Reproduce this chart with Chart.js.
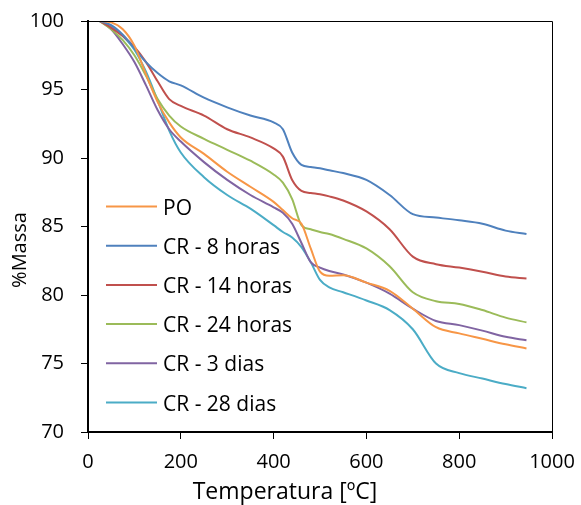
<!DOCTYPE html>
<html>
<head>
<meta charset="utf-8">
<script src="https://cdn.jsdelivr.net/npm/chart.js@4.4.1/dist/chart.umd.min.js"></script>
<style>
  html, body { margin: 0; padding: 0; background: #fff; }
  canvas { display: block; }
</style>
</head>
<body>
<canvas id="tga" width="581" height="505"></canvas>
<script>
// temperatura [ºC]
const temps = [25, 50, 75, 100, 125, 150, 175, 200, 250, 300, 350, 400, 420, 440, 460, 480, 500, 520, 550, 600, 650, 700, 750, 800, 850, 900, 945];

// %Massa por amostra
const po     = [100, 99.9, 99.4, 98.2, 96.1, 94.1, 92.6, 91.5, 90.3, 89.0, 87.9, 86.8, 86.2, 85.6, 85.2, 83.4, 81.7, 81.4, 81.45, 80.9, 80.3, 79.0, 77.65, 77.2, 76.8, 76.4, 76.1];
const cr8h   = [100, 99.7, 99.0, 98.0, 97.0, 96.2, 95.6, 95.3, 94.4, 93.7, 93.1, 92.6, 92.1, 90.4, 89.5, 89.35, 89.25, 89.1, 88.9, 88.4, 87.3, 85.9, 85.65, 85.45, 85.2, 84.7, 84.45];
const cr14h  = [100, 99.5, 98.9, 98.1, 97.0, 95.6, 94.3, 93.8, 93.1, 92.1, 91.5, 90.7, 90.1, 88.4, 87.6, 87.45, 87.35, 87.2, 86.9, 86.1, 84.8, 82.8, 82.25, 82.0, 81.7, 81.35, 81.2];
const cr24h  = [100, 99.4, 98.6, 97.5, 96.0, 94.3, 93.1, 92.3, 91.4, 90.6, 89.8, 88.8, 88.2, 87.0, 85.1, 84.8, 84.6, 84.45, 84.1, 83.4, 82.1, 80.2, 79.55, 79.35, 78.9, 78.35, 78.0];
const cr3d   = [100, 99.4, 98.3, 97.0, 95.3, 93.5, 92.1, 91.2, 89.7, 88.4, 87.3, 86.4, 86.0, 85.2, 83.8, 82.4, 82.0, 81.75, 81.5, 80.9, 80.1, 79.0, 78.1, 77.8, 77.4, 76.95, 76.7];
const cr28d  = [100, 99.6, 98.9, 97.9, 96.3, 94.2, 92.0, 90.4, 88.6, 87.3, 86.3, 85.1, 84.6, 84.2, 83.5, 82.4, 81.1, 80.55, 80.2, 79.6, 78.9, 77.5, 75.0, 74.3, 73.9, 73.5, 73.2];

const seriesNames = ['PO', 'CR - 8 horas', 'CR - 14 horas', 'CR - 24 horas', 'CR - 3 dias', 'CR - 28 dias'];
const seriesData = [po, cr8h, cr14h, cr24h, cr3d, cr28d];
const colors = ['#F79646', '#4F81BD', '#C0504D', '#9BBB59', '#8064A2', '#4BACC6'];

const FONT = '"Open Sans", Lato, sans-serif';

// moldura superior e direita da área do gráfico
const frame = {
  id: 'frame',
  afterDraw(chart) {
    const { ctx, chartArea: a } = chart;
    ctx.save();
    ctx.strokeStyle = '#000';
    ctx.lineWidth = 1;
    ctx.beginPath();
    ctx.moveTo(a.left, a.top + 0.5);
    ctx.lineTo(a.right + 0.5, a.top + 0.5);
    ctx.lineTo(a.right + 0.5, a.bottom);
    ctx.stroke();
    ctx.restore();
  }
};

// títulos dos eixos (posicionados como no original)
const titles = {
  id: 'titles',
  afterDraw(chart) {
    const ctx = chart.ctx;
    ctx.save();
    ctx.fillStyle = '#000';
    ctx.textAlign = 'center';
    ctx.textBaseline = 'alphabetic';
    ctx.font = '23px ' + FONT;
    ctx.fillText('Temperatura [ºC]', 285, 499);
    ctx.font = '20px ' + FONT;
    ctx.translate(26, 250);
    ctx.rotate(-Math.PI / 2);
    ctx.fillText('%Massa', 0, 0);
    ctx.restore();
  }
};

// legenda dentro da área do gráfico
const innerLegend = {
  id: 'innerLegend',
  afterDraw(chart) {
    const ctx = chart.ctx;
    ctx.save();
    ctx.font = '21px ' + FONT;
    ctx.textBaseline = 'alphabetic';
    ctx.fillStyle = '#000';
    chart.data.datasets.forEach((ds, i) => {
      const y = 206.5 + i * 39.2;
      ctx.strokeStyle = ds.borderColor;
      ctx.lineWidth = 2;
      ctx.beginPath();
      ctx.moveTo(106, y);
      ctx.lineTo(157, y);
      ctx.stroke();
      ctx.fillText(ds.label, 163, y + 8);
    });
    ctx.restore();
  }
};

new Chart(document.getElementById('tga'), {
  type: 'line',
  data: {
    datasets: seriesNames.map((name, i) => ({
      label: name,
      data: temps.map((t, k) => ({ x: t, y: seriesData[i][k] })),
      borderColor: colors[i],
      backgroundColor: colors[i],
      borderWidth: 2,
      pointRadius: 0,
      fill: false,
      cubicInterpolationMode: 'monotone'
    }))
  },
  options: {
    responsive: false,
    animation: false,
    devicePixelRatio: 1,
    layout: { padding: { left: 0, right: 29, top: 21, bottom: 0 } },
    plugins: { legend: { display: false }, tooltip: { enabled: false } },
    scales: {
      x: {
        type: 'linear',
        min: 0, max: 1000,
        ticks: { stepSize: 200, color: '#000', font: { family: FONT, size: 20 }, padding: 11, maxRotation: 0, callback: v => String(v) },
        grid: { drawOnChartArea: false, color: '#000', tickLength: 7, lineWidth: 1 },
        border: { color: '#000', width: 2 },
        afterFit(s) { s.height = 73; s.paddingLeft = 0; s.paddingRight = 0; }
      },
      y: {
        min: 70, max: 100,
        ticks: { stepSize: 5, color: '#000', font: { family: FONT, size: 20 }, padding: 17 },
        grid: { drawOnChartArea: false, color: '#000', tickLength: 7, lineWidth: 1 },
        border: { color: '#000', width: 2 },
        afterFit(s) { s.width = 88; s.paddingTop = 0; s.paddingBottom = 0; }
      }
    }
  },
  plugins: [frame, titles, innerLegend]
});
</script>
</body>
</html>
